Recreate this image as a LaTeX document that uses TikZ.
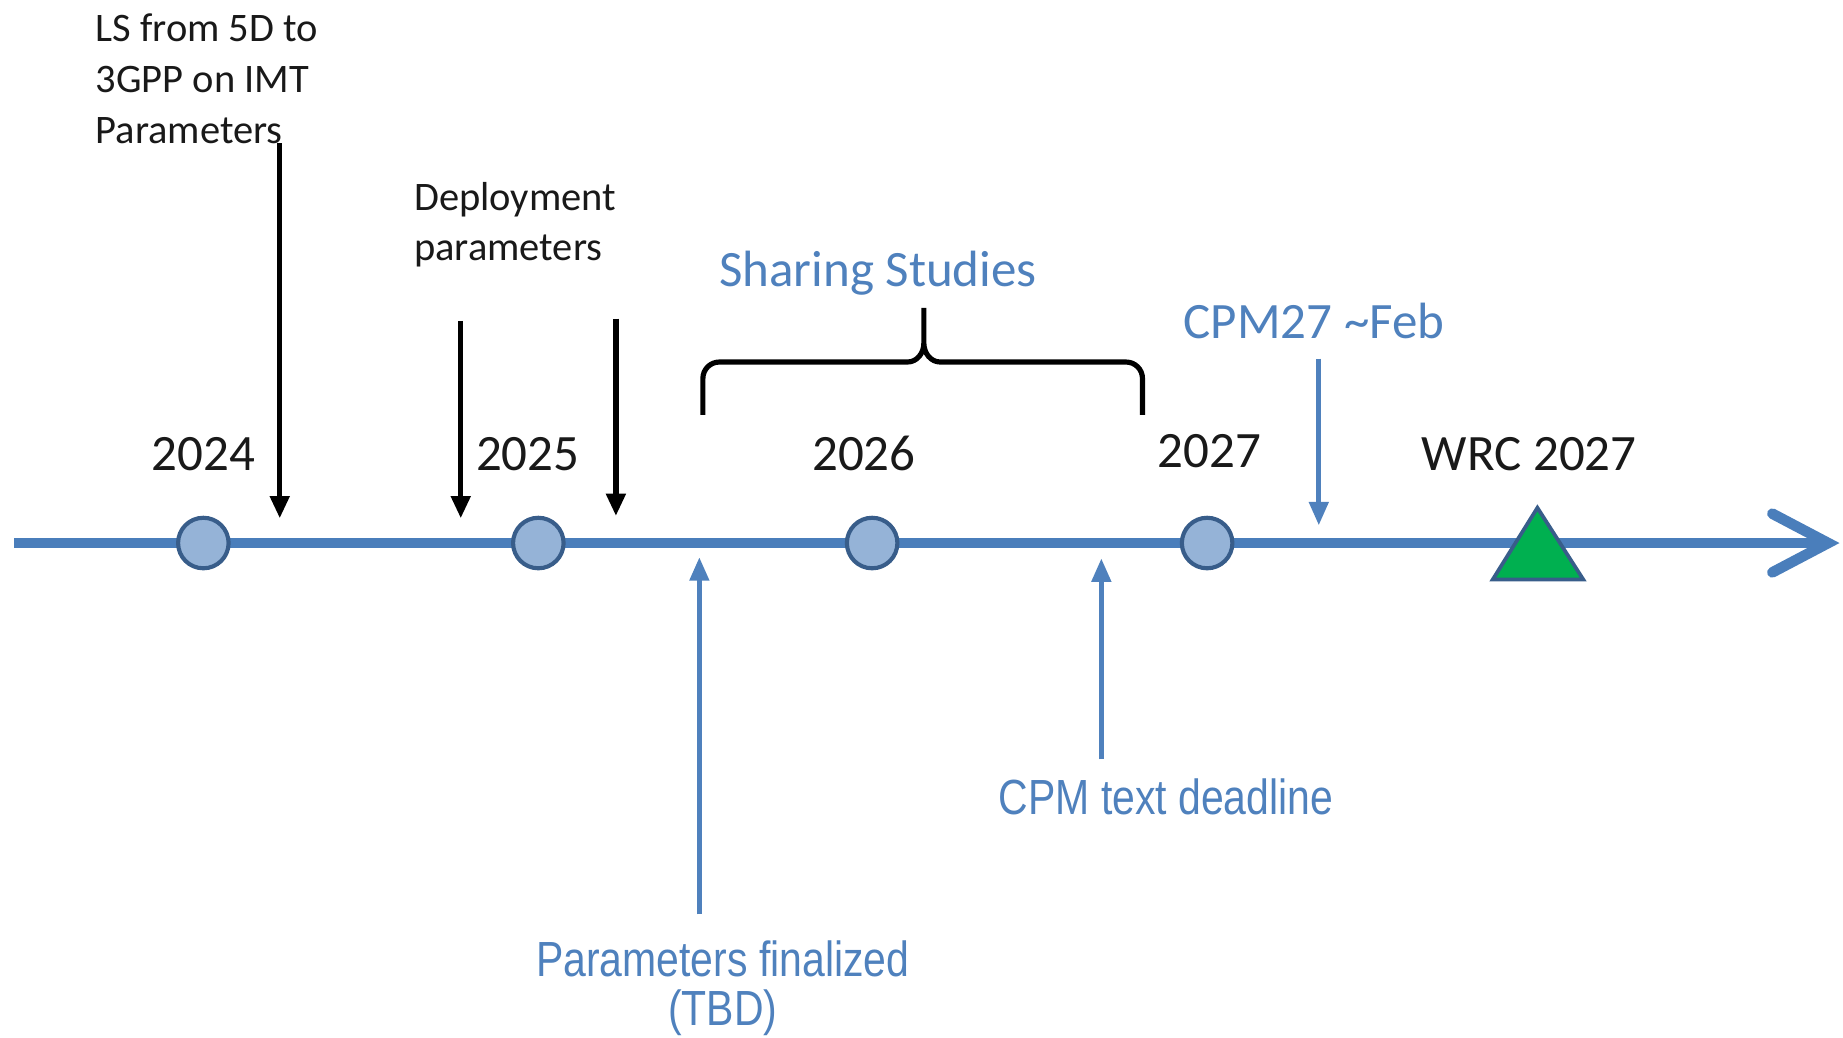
\documentclass[tikz,border=0pt]{standalone}
\usepackage{fontspec}
\setmainfont{Carlito}
\newfontfamily\arialfont[FakeStretch=0.83]{Liberation Sans}
\usetikzlibrary{arrows.meta}
\definecolor{axisblue}{HTML}{4A7EBB}
\definecolor{labelblue}{HTML}{4F81BD}
\definecolor{dotfill}{HTML}{95B3D7}
\definecolor{dotedge}{HTML}{385D8A}
\definecolor{wrcgreen}{HTML}{00B050}
\tikzstyle{timeline}=[draw=axisblue, line width=0.18cm, -{Straight Barb[length=0.95cm,width=1cm,line cap=round]}]
\tikzstyle{year dot}=[circle, draw=dotedge, fill=dotfill, line width=2pt, minimum size=0.86cm, inner sep=0]
\tikzstyle{wrc mark}=[draw=dotedge, fill=wrcgreen, line width=1.8pt, line join=miter]
\tikzstyle{year}=[font=\fontsize{24.7}{29}\selectfont, text=black!90, inner sep=0]
\tikzstyle{note}=[font=\fontsize{19.6}{24.5}\selectfont, text=black!90, align=left, inner sep=0, anchor=west]
\tikzstyle{big note}=[font=\fontsize{24.7}{29}\selectfont, text=labelblue, inner sep=0]
\tikzstyle{low note}=[font=\arialfont\fontsize{23.9}{23.9}\selectfont, text=labelblue, align=center, inner sep=0]
\tikzstyle{event}=[draw=black, line width=2.6pt, -{Triangle[length=0.38cm,width=0.32cm]}]
\tikzstyle{blue event}=[draw=labelblue, line width=2.5pt, -{Triangle[length=0.4cm,width=0.32cm]}]
\tikzstyle{span}=[draw=black, line width=2.5pt, line cap=butt]

\begin{document}
\begin{tikzpicture}[x=0.02cm, y=-0.02cm]
      \useasboundingbox (0, 0) rectangle (1568, 883);

      \coordinate (tl_start) at (12, 462);
      \coordinate (tl_end) at (1565, 462);
      \draw[timeline] (tl_start) -- (tl_end);

      \node[year dot] (dot2024) at (173, 462) {};
      \node[year dot] (dot2025) at (458, 462) {};
      \node[year dot] (dot2026) at (742, 462) {};
      \node[year dot] (dot2027) at (1027, 462) {};
      \filldraw[wrc mark] (1270, 493) -- (1308, 432) -- (1347, 493) -- cycle;

      \node[year] (y2024) at (173, 386) {2024};
      \node[year] (y2025) at (449, 386) {2025};
      \node[year] (y2026) at (735, 386) {2026};
      \node[year] (y2027) at (1029, 384) {2027};
      \node[year] (wrc) at (1301, 386) {WRC 2027};

      \node[note] (ls) at (81, 67) {LS from 5D to\\3GPP on IMT\\Parameters};
      \node[note] (deploy) at (352, 191) {Deployment\\parameters};

      \coordinate (ls_from) at (238, 122);
      \coordinate (ls_to) at (238, 441);
      \draw[event] (ls_from) -- (ls_to);
      \coordinate (dep_a_from) at (392, 273);
      \coordinate (dep_a_to) at (392, 441);
      \draw[event] (dep_a_from) -- (dep_a_to);
      \coordinate (dep_b_from) at (524, 271);
      \coordinate (dep_b_to) at (524, 439);
      \draw[event] (dep_b_from) -- (dep_b_to);

      \node[big note] (sharing) at (747, 232) {Sharing Studies};
      \coordinate (br_left) at (598, 353);
      \coordinate (br_tip) at (786, 262);
      \coordinate (br_right) at (972, 353);
      \draw[span] (br_left) -- (598, 322) to[out=90, in=180] (612, 308)
        -- (772, 308) to[out=0, in=270] (786, 292) -- (br_tip)
        -- (786, 292) to[out=270, in=180] (800, 308)
        -- (958, 308) to[out=0, in=90] (972, 322) -- (br_right);

      \node[big note] (cpm27) at (1118, 273) {CPM27 \textasciitilde Feb};
      \coordinate (cpm27_from) at (1122, 305);
      \coordinate (cpm27_to) at (1122, 447);
      \draw[blue event] (cpm27_from) -- (cpm27_to);

      \node[low note] (final) at (615, 841) {Parameters finalized\\(TBD)};
      \coordinate (final_from) at (595, 778);
      \coordinate (final_to) at (595, 474);
      \draw[blue event] (final_from) -- (final_to);

      \node[low note] (deadline) at (992, 678) {CPM text deadline};
      \coordinate (dl_from) at (937, 646);
      \coordinate (dl_to) at (937, 475);
      \draw[blue event] (dl_from) -- (dl_to);
    \end{tikzpicture}
\end{document}
